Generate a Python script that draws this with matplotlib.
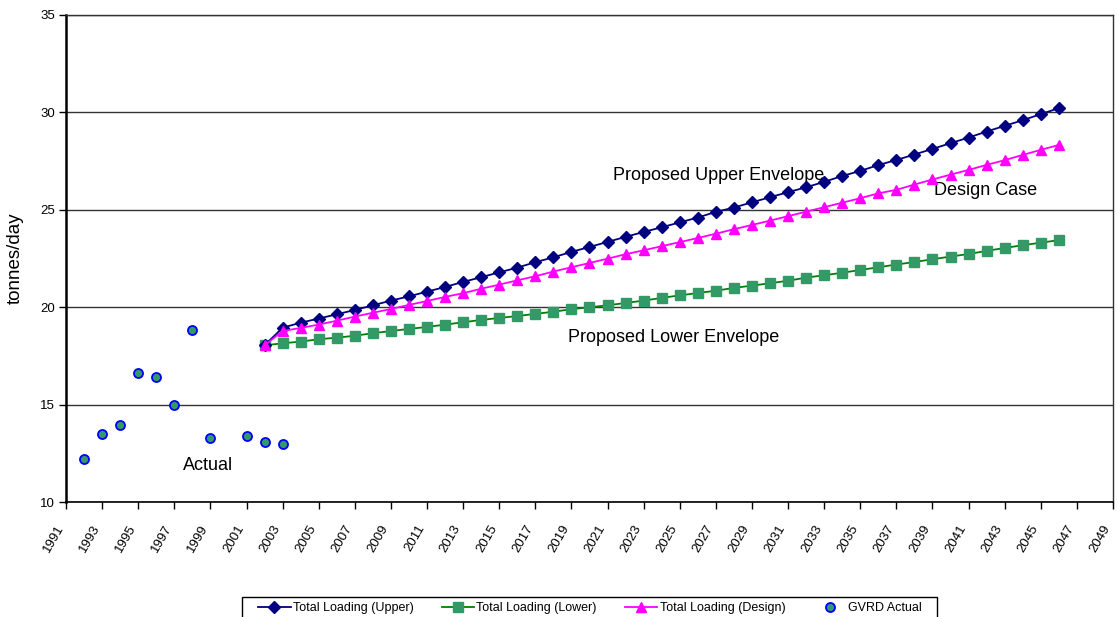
#!/usr/bin/env python3
"""
Total loading projections (tonnes/day): upper, lower and design envelopes
against the GVRD actual values.
"""

import matplotlib
matplotlib.use("Agg")
import matplotlib.pyplot as plt
from matplotlib.patches import Rectangle

plt.rcParams['font.family'] = ['Liberation Sans', 'DejaVu Sans']

# GVRD actual loading
actual_years = [1992, 1993, 1994, 1995, 1996, 1997, 1998, 1999, 2001, 2002, 2003]
actual_vals = [12.24, 13.50, 13.98, 16.65, 16.40, 15.00, 18.84, 13.31, 13.42, 13.08, 12.99]

# projection years 2002..2046
proj_years = list(range(2002, 2047))

upper_vals = [
    18.05, 18.95, 19.21, 19.42, 19.64, 19.86, 20.10, 20.34, 20.56, 20.80,
    21.04, 21.30, 21.54, 21.79, 22.03, 22.31, 22.56, 22.84, 23.09, 23.35,
    23.61, 23.86, 24.10, 24.35, 24.60, 24.89, 25.11, 25.38, 25.64, 25.90,
    26.15, 26.43, 26.73, 26.99, 27.29, 27.55, 27.83, 28.12, 28.41, 28.70,
    29.01, 29.30, 29.59, 29.90, 30.21,
]

design_vals = [
    18.05, 18.78, 18.94, 19.11, 19.31, 19.52, 19.72, 19.91, 20.12, 20.32,
    20.53, 20.72, 20.95, 21.16, 21.38, 21.59, 21.83, 22.05, 22.27, 22.49,
    22.72, 22.92, 23.13, 23.34, 23.55, 23.77, 24.00, 24.22, 24.44, 24.67,
    24.90, 25.13, 25.36, 25.59, 25.84, 26.02, 26.29, 26.55, 26.80, 27.04,
    27.30, 27.54, 27.81, 28.07, 28.32,
]

lower_vals = [
    18.05, 18.15, 18.24, 18.36, 18.44, 18.54, 18.67, 18.78, 18.89, 18.99,
    19.11, 19.23, 19.35, 19.45, 19.55, 19.66, 19.77, 19.90, 20.00, 20.10,
    20.22, 20.34, 20.48, 20.61, 20.73, 20.85, 20.99, 21.11, 21.23, 21.36,
    21.52, 21.64, 21.77, 21.91, 22.05, 22.19, 22.32, 22.46, 22.60, 22.73,
    22.89, 23.04, 23.18, 23.31, 23.44,
]

year_ticks = list(range(1991, 2050, 2))
y_ticks = [10, 15, 20, 25, 30, 35]

W, H = 1117, 617
fig = plt.figure(figsize=(W / 100, H / 100), dpi=100)
ax = fig.add_axes([0.0591, 0.1859, 0.9373, 0.7903])

ax.plot(proj_years, upper_vals, color='#000080', lw=1.3, marker='D',
        ms=5.8, mfc='#000080', mec='#000080', label='Total Loading (Upper)', zorder=4)
ax.plot(proj_years, lower_vals, color='#008000', lw=1.3, marker='s',
        ms=6.5, mfc='#339966', mec='#339966', label='Total Loading (Lower)', zorder=3)
ax.plot(proj_years, design_vals, color='#FF00FF', lw=1.3, marker='^',
        ms=7.8, mfc='#FF00FF', mec='#FF00FF', label='Total Loading (Design)', zorder=5)
ax.plot(actual_years, actual_vals, ls='none', marker='o', ms=6.5,
        mfc='#339966', mec='#0000FF', mew=1.3, label='GVRD Actual', zorder=6)

ax.set_xlim(1991, 2049)
ax.set_ylim(10, 35)
ax.set_xticks(year_ticks)
ax.set_xticklabels([str(y) for y in year_ticks], rotation=60, ha='right',
                   va='bottom', rotation_mode='anchor', fontsize=9.5)
ax.set_yticks(y_ticks)
ax.tick_params(axis='y', labelsize=9.5, length=5, width=1, direction='out', pad=3)
ax.tick_params(axis='x', length=5, width=1, direction='out', pad=14)
ax.yaxis.grid(True, color='#333333', lw=1)
ax.set_axisbelow(True)

for side in ['top', 'right']:
    ax.spines[side].set_color('#333333')
    ax.spines[side].set_linewidth(1)
ax.spines['left'].set_linewidth(1.8)
ax.spines['bottom'].set_linewidth(1.2)

ax.set_ylabel('tonnes/day', fontsize=13.5)
ax.yaxis.set_label_coords(-0.040, 0.5)

# envelope labels
ax.text(2021.3, 26.78, 'Proposed Upper Envelope', fontsize=13, va='center')
ax.text(2039.1, 26.0, 'Design Case', fontsize=13, va='center')
ax.text(2018.8, 18.44, 'Proposed Lower Envelope', fontsize=13, va='center')
ax.text(1997.5, 11.9, 'Actual', fontsize=13, va='center')

# legend along the bottom edge, boxed by hand so the frame runs off the page
leg = fig.legend(loc='center left', bbox_to_anchor=(258 / W, 1 - 608 / H), ncol=4,
                 fontsize=9, frameon=False, handlelength=2.6,
                 columnspacing=2.25, handletextpad=0.18, borderpad=0,
                 borderaxespad=0)
fig.add_artist(Rectangle((242 / W, -0.02), (937 - 242) / W, 0.02 + 1 - 597 / H,
                         transform=fig.transFigure, fill=False,
                         edgecolor='black', lw=1))

fig.savefig('out.png', dpi=100)
